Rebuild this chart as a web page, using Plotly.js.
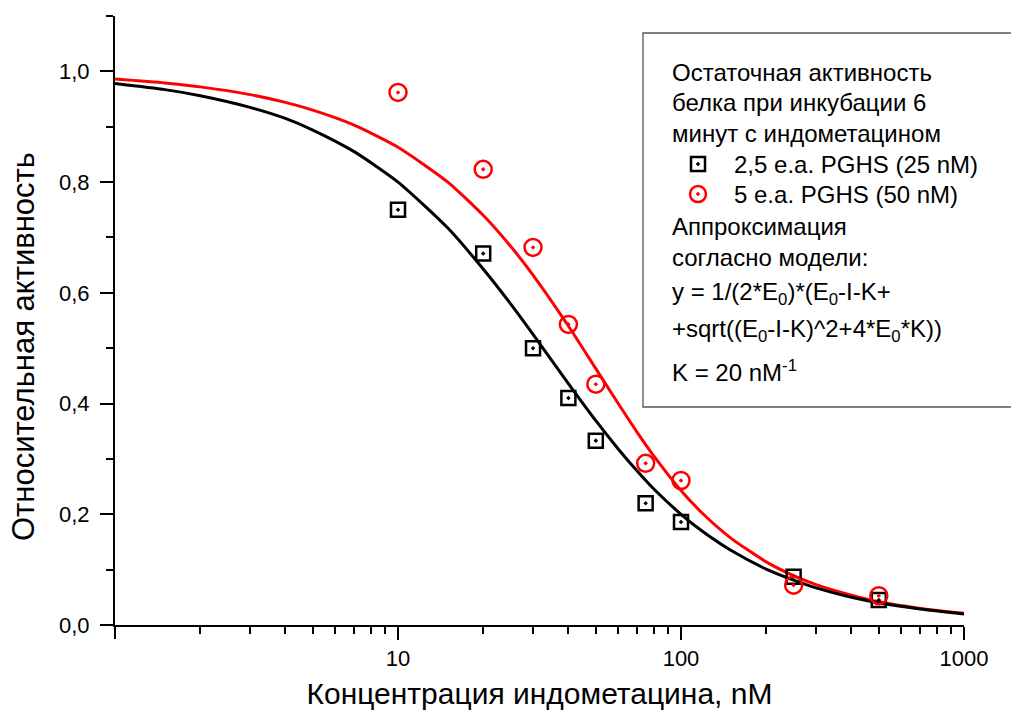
<!DOCTYPE html>
<html>
<head>
<meta charset="utf-8">
<script src="https://cdn.plot.ly/plotly-3.0.1.min.js"></script>
<style>html,body{margin:0;padding:0;background:#fff;}#chart{width:1011px;height:722px;}</style>
</head>
<body>
<div id="chart"></div>
<script>
// ---- data ----
var conc = [10, 20, 30, 40, 50, 75, 100, 250, 500];
var act25 = [0.750, 0.671, 0.500, 0.410, 0.333, 0.220, 0.186, 0.087, 0.045];
var act50 = [0.962, 0.823, 0.682, 0.543, 0.435, 0.292, 0.261, 0.072, 0.053];

var curveX = [1, 1.5, 2, 3, 4, 5, 7, 10, 15, 20, 25, 30, 40, 50, 60, 70, 80, 100, 120, 150, 200, 250, 300, 400, 500, 700, 1000];
var curve25 = [0.978, 0.967, 0.956, 0.935, 0.915, 0.894, 0.855, 0.800, 0.717, 0.643, 0.580, 0.525, 0.436, 0.369, 0.318, 0.278, 0.246, 0.200, 0.168, 0.135, 0.101, 0.081, 0.067, 0.050, 0.040, 0.029, 0.020];
var curve50 = [0.986, 0.979, 0.972, 0.958, 0.944, 0.930, 0.903, 0.863, 0.800, 0.740, 0.684, 0.632, 0.540, 0.463, 0.400, 0.348, 0.306, 0.243, 0.200, 0.157, 0.114, 0.089, 0.073, 0.054, 0.042, 0.030, 0.021];

var xTickVals = [10, 100, 1000];
var xTickText = ['10', '100', '1000'];
var xMinorVals = [2,3,4,5,6,7,8,9,20,30,40,50,60,70,80,90,200,300,400,500,600,700,800,900];
var yTickVals = [0, 0.2, 0.4, 0.6, 0.8, 1.0];
var yTickText = ['0,0', '0,2', '0,4', '0,6', '0,8', '1,0'];
var yMinorVals = [0.1, 0.3, 0.5, 0.7, 0.9, 1.1];

var name25 = '2,5 e.a. PGHS (25 nM)';
var name50 = '5 e.a. PGHS (50 nM)';
var legendHead = ['Остаточная активность', 'белка при инкубации 6', 'минут с индометацином'];
var legendTail = ['Аппроксимация', 'согласно модели:',
  'y = 1/(2*E<sub>0</sub>)*(E<sub>0</sub>-I-K+',
  '+sqrt((E<sub>0</sub>-I-K)^2+4*E<sub>0</sub>*K))',
  'K = 20 nM<sup>-1</sup>'];
var xTitle = 'Концентрация индометацина, nM';
var yTitle = 'Относительная активность';

// ---- layout helpers (pixel -> paper) ----
var W = 1011, H = 722, ML = 115, MR = 47, MT = 16, MB = 97;
var PW = W - ML - MR, PH = H - MT - MB;
function px(x) { return (x - ML) / PW; }
function py(y) { return (H - MB - y) / PH; }

var FONT = 'Arial, "Liberation Sans", sans-serif';
var LEGEND_SIZE = 24;

var traces = [
  {x: curveX, y: curve50, mode: 'lines', line: {color: '#ff0000', width: 3, shape: 'spline', smoothing: 0.6}, showlegend: false, hoverinfo: 'skip'},
  {x: curveX, y: curve25, mode: 'lines', line: {color: '#000000', width: 3, shape: 'spline', smoothing: 0.6}, showlegend: false, hoverinfo: 'skip'},
  {x: conc, y: act25, mode: 'markers', name: name25, legend: 'legend',
   marker: {symbol: 'square-open-dot', size: 14, color: '#000000', line: {color: '#000000', width: 2.5}}},
  {x: conc, y: act50, mode: 'markers', name: name50, legend: 'legend2',
   marker: {symbol: 'circle-open-dot', size: 17, color: '#ff0000', line: {color: '#ff0000', width: 2.5}}}
];

var annotations = [];
var headY = [72, 102, 133];
legendHead.forEach(function (t, i) {
  annotations.push({xref: 'paper', yref: 'paper', x: px(670), y: py(headY[i]), xanchor: 'left', yanchor: 'middle',
    text: t, showarrow: false, font: {family: FONT, size: LEGEND_SIZE, color: '#000'}});
});
var tailY = [226, 257, 293, 331, 371];
legendTail.forEach(function (t, i) {
  annotations.push({xref: 'paper', yref: 'paper', x: px(670), y: py(tailY[i]), xanchor: 'left', yanchor: 'middle',
    text: t, showarrow: false, font: {family: FONT, size: LEGEND_SIZE, color: '#000'}});
});
annotations.push({xref: 'paper', yref: 'paper', x: px(23), y: py(347), xanchor: 'center', yanchor: 'middle',
  textangle: -90, text: yTitle, showarrow: false, font: {family: FONT, size: 31, color: '#000'}});

var axisCommon = {
  showline: true, linewidth: 2, linecolor: '#000', showgrid: false, zeroline: false,
  ticks: 'outside', ticklen: 13, tickwidth: 2, tickcolor: '#000',
  tickfont: {family: FONT, size: 22, color: '#000'}
};

function legendAt(topPx) {
  return {
    x: px(662), y: py(topPx), xanchor: 'left', yanchor: 'top',
    bgcolor: 'rgba(0,0,0,0)', borderwidth: 0, itemwidth: 62,
    font: {family: FONT, size: LEGEND_SIZE, color: '#000'}, traceorder: 'normal'
  };
}

var layout = {
  width: W, height: H,
  margin: {l: ML, r: MR, t: MT, b: MB, pad: 0},
  paper_bgcolor: '#fff', plot_bgcolor: '#fff',
  font: {family: FONT, color: '#000'},
  xaxis: Object.assign({}, axisCommon, {
    type: 'log', range: [0, 3], tickmode: 'array', tickvals: xTickVals, ticktext: xTickText,
    minor: {tickmode: 'array', tickvals: xMinorVals, ticks: 'outside', ticklen: 7, tickwidth: 2, tickcolor: '#000', showgrid: false},
    title: {text: xTitle, font: {family: FONT, size: 30, color: '#000'}, standoff: 13}
  }),
  yaxis: Object.assign({}, axisCommon, {
    range: [0, 1.1], tickmode: 'array', tickvals: yTickVals, ticktext: yTickText, ticklabelstandoff: 6,
    minor: {tickmode: 'array', tickvals: yMinorVals, ticks: 'outside', ticklen: 7, tickwidth: 2, tickcolor: '#000', showgrid: false}
  }),
  showlegend: true,
  legend: legendAt(142),
  legend2: legendAt(172),
  shapes: [
    {type: 'rect', xref: 'paper', yref: 'paper', x0: px(643), x1: px(1040), y0: py(33), y1: py(407),
     line: {color: '#555', width: 1.3}, fillcolor: '#fff', layer: 'below'},
    // long tick at the left end of the x axis (x = 1)
    {type: 'line', xref: 'paper', yref: 'paper', x0: 0, x1: 0, y0: 0, y1: py(639),
     line: {color: '#000', width: 2}}
  ],
  annotations: annotations
};

Plotly.newPlot('chart', traces, layout, {staticPlot: true, displayModeBar: false});
</script>
</body>
</html>
